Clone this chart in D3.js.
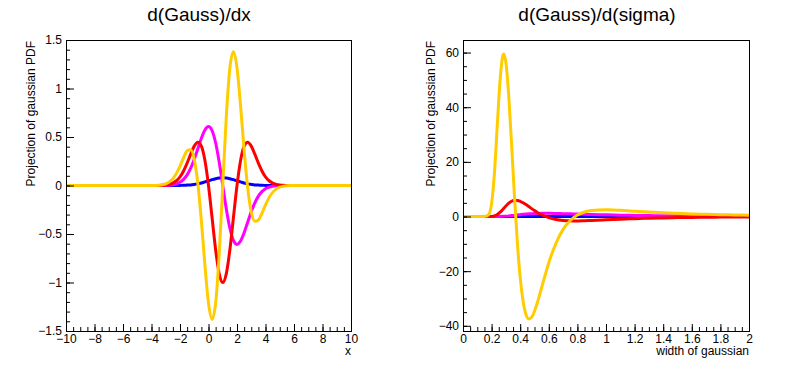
<!DOCTYPE html>
<html>
<head>
<meta charset="utf-8">
<script src="https://cdn.jsdelivr.net/npm/d3@7"></script>
<style>
  body { margin: 0; background: #fff; }
  text { font-family: "Liberation Sans", Arial, sans-serif; fill: #000; }
</style>
</head>
<body>
<div id="wrapper"></div>
<script>
// ---- data: left pad, curves vs x ----
const xGrid = [-10, -4, -3.75, -3.5, -3.25, -3, -2.75, -2.5, -2.25, -2, -1.75, -1.5, -1.25, -1, -0.75, -0.5, -0.25,
  0, 0.25, 0.5, 0.75, 1, 1.25, 1.5, 1.75, 2, 2.25, 2.5, 2.75, 3, 3.25, 3.5, 3.75, 4, 4.25, 4.5, 4.75,
  5, 5.25, 5.5, 5.75, 6, 10];
const gaussX = [0, 0, 0, 0, 0, 0, 0, 0, 0, 0.001, 0.002, 0.004, 0.006, 0.011, 0.017, 0.026, 0.037,
  0.048, 0.060, 0.070, 0.077, 0.080, 0.077, 0.070, 0.060, 0.048, 0.037, 0.026, 0.017, 0.011, 0.006, 0.004, 0.002,
  0.001, 0, 0, 0, 0, 0, 0, 0, 0, 0];
const dgdx = [0, 0, 0, 0, 0.001, 0.001, 0.003, 0.008, 0.017, 0.033, 0.063, 0.110, 0.179, 0.271, 0.378, 0.487, 0.572,
  0.607, 0.566, 0.441, 0.242, 0, -0.242, -0.441, -0.566, -0.607, -0.572, -0.487, -0.378, -0.271, -0.179, -0.110, -0.063,
  -0.033, -0.017, -0.008, -0.003, -0.001, -0.001, 0, 0, 0, 0];
const d2gdx2 = [0, 0, 0, 0.001, 0.002, 0.005, 0.012, 0.025, 0.049, 0.089, 0.150, 0.231, 0.323, 0.406, 0.446, 0.406, 0.258,
  0, -0.330, -0.662, -0.909, -1, -0.909, -0.662, -0.330, 0, 0.258, 0.406, 0.446, 0.406, 0.323, 0.231, 0.150,
  0.089, 0.049, 0.025, 0.012, 0.005, 0.002, 0.001, 0, 0, 0];
const d3gdx3 = [0, 0, 0.001, 0.003, 0.008, 0.017, 0.037, 0.071, 0.125, 0.200, 0.286, 0.357, 0.369, 0.271, 0.024, -0.365, -0.823,
  -1.213, -1.380, -1.213, -0.712, 0, 0.712, 1.213, 1.380, 1.213, 0.823, 0.365, -0.024, -0.271, -0.369, -0.357, -0.286,
  -0.200, -0.125, -0.071, -0.037, -0.017, -0.008, -0.003, -0.001, 0, 0];

// ---- data: right pad, curves vs sigma ----
const sigGrid = [0, 0.1, 0.15, 0.18, 0.2, 0.22, 0.24, 0.26, 0.28, 0.285, 0.3, 0.32, 0.34, 0.36, 0.38, 0.4, 0.42, 0.44,
  0.46, 0.48, 0.5, 0.52, 0.55, 0.6, 0.65, 0.7, 0.75, 0.8, 0.85, 0.9, 1.0, 1.1, 1.2, 1.3, 1.4, 1.5, 1.6, 1.7, 1.8, 1.9, 2.0];
const gaussS = [0, 0, 0, 0, 0, 0, 0, 0, 0, 0, 0, 0, 0, 0, 0, 0, 0, 0, 0, 0, 0, 0, 0,
  0.001, 0.001, 0.001, 0.001, 0.001, 0.001, 0.001, 0.001, 0.002, 0.002, 0.002, 0.002, 0.002, 0.002, 0.002, 0.002, 0.002, 0.002];
const dgds = [0, 0, 0, 0, 0.001, 0.003, 0.012, 0.035, 0.077, 0.092, 0.143, 0.231, 0.337, 0.453, 0.571, 0.687, 0.793, 0.887,
  0.967, 1.032, 1.083, 1.119, 1.151, 1.155, 1.115, 1.051, 0.974, 0.894, 0.815, 0.740, 0.607, 0.497, 0.409, 0.339, 0.282,
  0.237, 0.201, 0.172, 0.147, 0.127, 0.110];
const d2gds2 = [0, 0, 0, 0.005, 0.05, 0.25, 0.74, 1.58, 2.70, 2.99, 3.87, 4.89, 5.59, 5.93, 5.90, 5.58, 5.04, 4.37,
  3.63, 2.88, 2.17, 1.50, 0.64, -0.43, -1.09, -1.44, -1.59, -1.61, -1.55, -1.45, -1.21, -0.98, -0.79, -0.63, -0.50,
  -0.40, -0.33, -0.27, -0.22, -0.18, -0.15];
const d3gds3 = [0, 0, 0.005, 0.72, 4.8, 16.0, 33.6, 50.4, 59.1, 59.5, 56.4, 44.0, 26.2, 7.3, -9.4, -22.3, -30.9, -35.8,
  -37.5, -36.9, -34.7, -31.5, -26.0, -16.9, -9.8, -4.7, -1.45, 0.53, 1.65, 2.2, 2.45, 2.25, 1.95, 1.65, 1.38,
  1.15, 0.95, 0.8, 0.68, 0.57, 0.48];

// ---- tick labels ----
const leftXTicks = [-10, -8, -6, -4, -2, 0, 2, 4, 6, 8, 10];
const leftYTicks = [-1.5, -1, -0.5, 0, 0.5, 1, 1.5];
const rightXTicks = [0, 0.2, 0.4, 0.6, 0.8, 1, 1.2, 1.4, 1.6, 1.8, 2];
const rightYTicks = [-40, -20, 0, 20, 40, 60];

const colors = ["#0000ff", "#ff00ff", "#ff0000", "#ffcc00"];

const width = 796;
const height = 372;

const svg = d3.select("#wrapper").append("svg")
  .attr("width", width)
  .attr("height", height);
svg.append("rect").attr("width", width).attr("height", height).attr("fill", "#fff");

const fmt = (d) => (d < 0 ? "\u2212" : "") + Math.abs(d);

function drawPad(p) {
  const xScale = d3.scaleLinear().domain(p.xDomain).range([p.left, p.right]);
  const yScale = d3.scaleLinear().domain(p.yDomain).range([p.bottom, p.top]);

  // title
  svg.append("text")
    .attr("x", p.titleX).attr("y", 21)
    .attr("text-anchor", "middle")
    .style("font-size", "19px")
    .text(p.title);

  // curves
  const clipId = "clip" + p.id;
  svg.append("clipPath").attr("id", clipId)
    .append("rect")
    .attr("x", p.left).attr("y", p.top)
    .attr("width", p.right - p.left).attr("height", p.bottom - p.top);

  const line = d3.line()
    .x((d) => xScale(d[0]))
    .y((d) => yScale(d[1]))
    .curve(d3.curveMonotoneX);

  const curves = svg.append("g").attr("clip-path", `url(#${clipId})`);
  p.series.forEach((vals, i) => {
    curves.append("path")
      .attr("d", line(p.grid.map((x, j) => [x, vals[j]])))
      .attr("fill", "none")
      .attr("stroke", colors[i])
      .attr("stroke-width", 3)
      .attr("stroke-linejoin", "round");
  });

  // axes (ROOT style: ticks pointing inward)
  const xAxis = svg.append("g").attr("transform", `translate(0,${p.bottom})`)
    .call(d3.axisBottom(xScale).tickValues(p.xTicks).tickFormat(fmt).tickSize(-7).tickPadding(3));
  svg.append("g").attr("transform", `translate(0,${p.bottom})`)
    .call(d3.axisBottom(xScale).tickValues(p.xMinor).tickFormat("").tickSize(-4));

  const yAxis = svg.append("g").attr("transform", `translate(${p.left},0)`)
    .call(d3.axisLeft(yScale).tickValues(p.yTicks).tickFormat(fmt).tickSize(-8).tickPadding(4));
  svg.append("g").attr("transform", `translate(${p.left},0)`)
    .call(d3.axisLeft(yScale).tickValues(p.yMinor).tickFormat("").tickSize(-4));

  svg.selectAll(".domain").remove();
  svg.selectAll(".tick line").attr("stroke", "#000");
  xAxis.selectAll("text").style("font-size", "12px").attr("fill", "#000");
  yAxis.selectAll("text").style("font-size", "12px").attr("fill", "#000");

  // frame
  svg.append("rect")
    .attr("x", p.left + 0.5).attr("y", p.top + 0.5)
    .attr("width", p.right - p.left).attr("height", p.bottom - p.top)
    .attr("fill", "none").attr("stroke", "#000");

  // axis titles
  svg.append("text")
    .attr("x", p.right).attr("y", 355)
    .attr("text-anchor", "end")
    .style("font-size", "12px")
    .text(p.xTitle);
  svg.append("text")
    .attr("transform", `translate(${p.yTitleX},${p.top + 1}) rotate(-90)`)
    .attr("text-anchor", "end")
    .style("font-size", "12px")
    .text("Projection of gaussian PDF");
}

drawPad({
  id: "L",
  left: 66, right: 351, top: 40, bottom: 331,
  xDomain: [-10, 10], yDomain: [-1.5, 1.5],
  xTicks: leftXTicks, yTicks: leftYTicks,
  xMinor: d3.range(-10, 10.01, 0.5), yMinor: d3.range(-15, 15.1, 1).map((d) => d / 10),
  grid: xGrid, series: [gaussX, dgdx, d2gdx2, d3gdx3],
  title: "d(Gauss)/dx", titleX: 199,
  xTitle: "x", yTitleX: 35
});

drawPad({
  id: "R",
  left: 463, right: 749, top: 40, bottom: 331,
  xDomain: [0, 2], yDomain: [-41.9, 64.6],
  xTicks: rightXTicks, yTicks: rightYTicks,
  xMinor: d3.range(0, 41, 1).map((d) => d / 20), yMinor: d3.range(-40, 61, 5),
  grid: sigGrid, series: [gaussS, dgds, d2gds2, d3gds3],
  title: "d(Gauss)/d(sigma)", titleX: 597,
  xTitle: "width of gaussian", yTitleX: 434.5
});
</script>
</body>
</html>
